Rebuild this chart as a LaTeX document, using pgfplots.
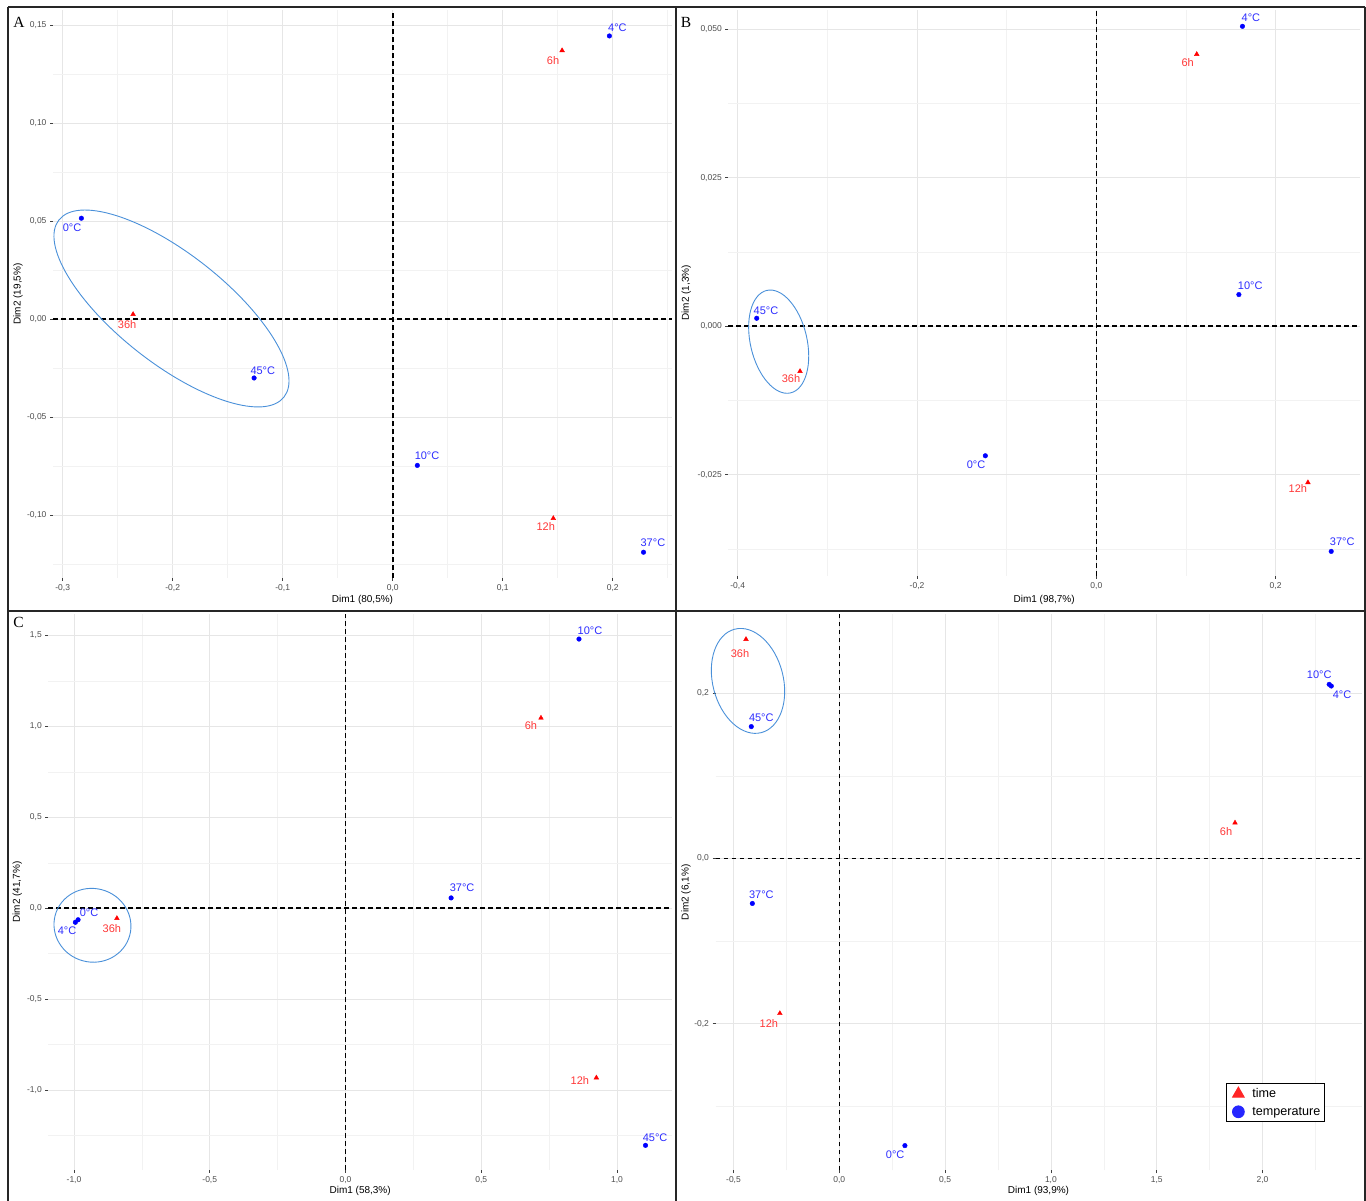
\documentclass[border=0pt]{standalone}
\usepackage{pgfplots}
\pgfplotsset{compat=1.18}
\usepackage{fontspec}
\setmainfont{Liberation Sans}
\newfontfamily\panelfont{Liberation Serif}

\definecolor{tempblue}{RGB}{0,0,255}
\definecolor{templabel}{RGB}{45,45,255}
\definecolor{timered}{RGB}{255,0,0}
\definecolor{timelabel}{RGB}{255,55,55}
\definecolor{ellcol}{RGB}{74,144,217}
\definecolor{gridmaj}{RGB}{230,230,230}
\definecolor{gridmin}{RGB}{242,242,242}
\definecolor{ticktext}{RGB}{77,77,77}

\pgfplotsset{
  pcaaxis/.style={
    scale only axis, anchor=south west, clip=false,
    scaled ticks=false,
    axis line style={draw=none},
    tick pos=left, tick align=outside,
    major tick length=3pt, minor tick length=0pt,
    major tick style={color=black!75, line width=0.8pt},
    grid=both,
    major grid style={color=gridmaj, line width=0.8pt},
    minor grid style={color=gridmin, line width=0.5pt},
    tick label style={font=\fontsize{8.5}{10}\selectfont, color=ticktext},
    label style={font=\fontsize{11}{13}\selectfont, color=black!90},
  },
  xlab/.style={every axis x label/.style={at={(axis description cs:0.5,0)}, yshift=#1, anchor=center}},
  ylab/.style={every axis y label/.style={at={(axis description cs:0,0.5)}, xshift=#1, rotate=90, anchor=center}},
  % labelled points: columns x, y, label offset dx, dy (pt), label text
  labelled/.style={only marks, forget plot, mark options={draw=none},
    nodes near coords, point meta=explicit symbolic,
    visualization depends on={value \thisrow{dx}\as\lblx},
    visualization depends on={value \thisrow{dy}\as\lbly},
    every node near coord/.append style={anchor=center, xshift=\lblx, yshift=\lbly, inner sep=0pt,
      font=\fontsize{11}{12}\selectfont, text=#1}},
  tempser/.style={labelled=templabel, mark=*, mark size=2.3pt, color=tempblue},
  timeser/.style={labelled=timelabel, mark=triangle*, mark size=2.7pt, color=timered},
  % legend key: one large mark, followed by a gap before the text
  keymark/.style={legend image code/.code={%
      \path[draw=none, fill=none] (0pt,-6pt) rectangle (22pt,6pt);
      \draw[##1] plot coordinates {(8pt,0pt)};}},
}
\tikzset{
  zeroline/.style={black, line width=1.6pt, dash pattern=on 4.5pt off 3.5pt},
  confell/.style={ellcol, line width=0.9pt},
  frameline/.style={black!85, line width=1.3pt},
}

\begin{document}
\begin{tikzpicture}[x=1pt, y=1pt]
% lower-left corners of the four plotting areas
\coordinate (posA) at (53pt,623pt);
\coordinate (posB) at (728.3pt,625pt);
\coordinate (posC) at (48.3pt,31pt);
\coordinate (posD) at (715.5pt,30.5pt);

% ================= A =================
\begin{axis}[pcaaxis, at={(posA)}, width=619pt, height=568pt,
  xmin=-0.3088, xmax=0.2539, ymin=-0.13214, ymax=0.15765,
  xtick={-0.3,-0.2,-0.1,0,0.1,0.2}, xticklabels={{-0,3},{-0,2},{-0,1},{0,0},{0,1},{0,2}},
  minor xtick={-0.25,-0.15,-0.05,0.05,0.15,0.25},
  ytick={-0.1,-0.05,0,0.05,0.1,0.15}, yticklabels={{-0,10},{-0,05},{0,00},{0,05},{0,10},{0,15}},
  minor ytick={-0.125,-0.075,-0.025,0.025,0.075,0.125},
  xlabel={Dim1 (80,5\%)}, ylabel={Dim2 (19,5\%)}, xlab=-22pt, ylab=-35pt]
  \draw[zeroline] ({axis cs:0,0} |- {rel axis cs:0,0}) -- ({axis cs:0,0} |- {rel axis cs:0,1});
  \draw[zeroline] ({axis cs:0,0} -| {rel axis cs:0,0}) -- ({axis cs:0,0} -| {rel axis cs:1,0});
  \draw[confell, rotate around={-38.2:(axis cs:-0.2011,0.00536)}] (axis cs:-0.2011,0.00536) ellipse [x radius=143.2pt, y radius=54.7pt];
  \addplot[timeser] table[x=x, y=y, meta=label] {
x        y        dx    dy    label
-0.236   0.0024   -6   -10    36h
 0.146  -0.1017   -7.6  -8.4  12h
 0.154   0.137    -9   -10    6h
};
  \addplot[tempser] table[x=x, y=y, meta=label] {
x        y        dx    dy    label
-0.283   0.0514   -9.3  -9    0°C
-0.126  -0.0301    8.7   7.3  45°C
 0.0224 -0.0747    9.7   9.3  10°C
 0.228  -0.119     9.4   9.6  37°C
 0.197   0.1444    8     8    4°C
};
\end{axis}

% ================= B =================
\begin{axis}[pcaaxis, at={(posB)}, width=631.7pt, height=566pt,
  xmin=-0.4105, xmax=0.2941, ymin=-0.04204, ymax=0.05325,
  xtick={-0.4,-0.2,0,0.2}, xticklabels={{-0,4},{-0,2},{0,0},{0,2}},
  minor xtick={-0.3,-0.1,0.1},
  ytick={-0.025,0,0.025,0.05}, yticklabels={{-0,025},{0,000},{0,025},{0,050}},
  minor ytick={-0.0375,-0.0125,0.0125,0.0375},
  xlabel={Dim1 (98,7\%)}, ylabel={Dim2 (1,3\%)}, xlab=-24pt, ylab=-42pt]
  \draw[zeroline] ({axis cs:0,0} |- {rel axis cs:0,0}) -- ({axis cs:0,0} |- {rel axis cs:0,1});
  \draw[zeroline] ({axis cs:0,0} -| {rel axis cs:0,0}) -- ({axis cs:0,0} -| {rel axis cs:1,0});
  \draw[confell, rotate around={13.1:(axis cs:-0.3543,-0.00259)}] (axis cs:-0.3543,-0.00259) ellipse [x radius=28.3pt, y radius=52.6pt];
  \addplot[timeser] table[x=x, y=y, meta=label] {
x        y         dx    dy    label
 0.112   0.0458   -9    -8    6h
 0.236  -0.0263  -10    -6    12h
-0.3305 -0.00758  -9    -7.7  36h
};
  \addplot[tempser] table[x=x, y=y, meta=label] {
x        y         dx    dy    label
 0.163   0.0505    8.4   8.2  4°C
 0.159   0.00534  11.3   8.6  10°C
 0.262  -0.0379   11     9.8  37°C
-0.3788  0.00135   9.3   7.6  45°C
-0.1238 -0.0218   -9.3  -9    0°C
};
\end{axis}

% ================= C =================
\begin{axis}[pcaaxis, at={(posC)}, width=623.7pt, height=555.7pt,
  xmin=-1.0947, xmax=1.2026, ymin=-1.4395, ymax=1.6172,
  xtick={-1,-0.5,0,0.5,1}, xticklabels={{-1,0},{-0,5},{0,0},{0,5},{1,0}},
  minor xtick={-0.75,-0.25,0.25,0.75},
  ytick={-1,-0.5,0,0.5,1,1.5}, yticklabels={{-1,0},{-0,5},{0,0},{0,5},{1,0},{1,5}},
  minor ytick={-1.25,-0.75,-0.25,0.25,0.75,1.25},
  xlabel={Dim1 (58,3\%)}, ylabel={Dim2 (41,7\%)}, xlab=-21pt, ylab=-31pt]
  \draw[zeroline] ({axis cs:0,0} |- {rel axis cs:0,0}) -- ({axis cs:0,0} |- {rel axis cs:0,1});
  \draw[zeroline] ({axis cs:0,0} -| {rel axis cs:0,0}) -- ({axis cs:0,0} -| {rel axis cs:1,0});
  \draw[confell, rotate around={-15:(axis cs:-0.932,-0.0935)}] (axis cs:-0.932,-0.0935) ellipse [x radius=38.6pt, y radius=36.8pt];
  \addplot[timeser] table[x=x, y=y, meta=label] {
x        y        dx    dy    label
 0.720   1.047   -10    -8    6h
 0.924  -0.932   -16.5  -2.3  12h
-0.842  -0.055    -5   -10    36h
};
  \addplot[tempser] table[x=x, y=y, meta=label] {
x        y        dx    dy    label
 0.860   1.481    11     8    10°C
 0.389   0.057    11    10    37°C
 1.105  -1.304     9.6   7.6  45°C
-0.985  -0.063    11     7    0°C
-0.995  -0.077    -8.3  -8    4°C
};
\end{axis}

% ================= D =================
\begin{axis}[pcaaxis, at={(posD)}, width=646pt, height=556.2pt,
  xmin=-0.5851, xmax=2.4678, ymin=-0.3775, ymax=0.2955,
  xtick={-0.5,0,0.5,1,1.5,2}, xticklabels={{-0,5},{0,0},{0,5},{1,0},{1,5},{2,0}},
  minor xtick={-0.25,0.25,0.75,1.25,1.75,2.25},
  ytick={-0.2,0,0.2}, yticklabels={{-0,2},{0,0},{0,2}},
  minor ytick={-0.3,-0.1,0.1},
  xlabel={Dim1 (93,9\%)}, ylabel={Dim2 (6,1\%)}, xlab=-20.5pt, ylab=-29.5pt,
  legend cell align=left,
  legend style={at={(axis description cs:0.79,0.0875)}, anchor=south west,
    font=\fontsize{12.6}{14}\selectfont, draw=black, line width=1.1pt,
    inner xsep=4pt, inner ysep=3.5pt, row sep=6pt, nodes={inner sep=0pt}}]
  \draw[zeroline] ({axis cs:0,0} |- {rel axis cs:0,0}) -- ({axis cs:0,0} |- {rel axis cs:0,1});
  \draw[zeroline] ({axis cs:0,0} -| {rel axis cs:0,0}) -- ({axis cs:0,0} -| {rel axis cs:1,0});
  \draw[confell, rotate around={14.4:(axis cs:-0.4315,0.2149)}] (axis cs:-0.4315,0.2149) ellipse [x radius=35.3pt, y radius=53.4pt];
  \addplot[timeser] table[x=x, y=y, meta=label] {
x        y        dx    dy    label
-0.441   0.2653   -6   -14    36h
-0.281  -0.1874  -11   -10.6  12h
 1.870   0.0432   -9    -8.7  6h
};
  \addplot[tempser] table[x=x, y=y, meta=label] {
x        y        dx    dy    label
-0.416   0.1596   10     8.4  45°C
-0.411  -0.0544    9     8.7  37°C
 0.310  -0.3474   -9.7  -8.7  0°C
 2.315   0.2107  -10     9.3  10°C
 2.325   0.2087   10.7  -9    4°C
};
  \addlegendimage{keymark, only marks, mark=triangle*, mark size=6.5pt, color=timered!85, mark options={draw=none}}
  \addlegendentry{time}
  \addlegendimage{keymark, only marks, mark=*, mark size=5.8pt, color=tempblue!85, mark options={draw=none}}
  \addlegendentry{temperature}
\end{axis}

% panel frames and letters
\draw[frameline] (8,1194) -- (1365,1194);
\draw[frameline] (8,1194) -- (8,0);
\draw[frameline] (1365,1194) -- (1365,0);
\draw[frameline] (676,1194) -- (676,0);
\draw[frameline] (8,590) -- (1365,590);
\node[font=\panelfont\fontsize{15.5}{17}\selectfont, inner sep=0pt] at (19,1179) {A};
\node[font=\panelfont\fontsize{15.5}{17}\selectfont, inner sep=0pt] at (686,1179) {B};
\node[font=\panelfont\fontsize{15.5}{17}\selectfont, inner sep=0pt] at (18.5,579) {C};

% page extent
\pgfresetboundingbox
\path (0,0) rectangle (1366,1201);
\end{tikzpicture}
\end{document}
